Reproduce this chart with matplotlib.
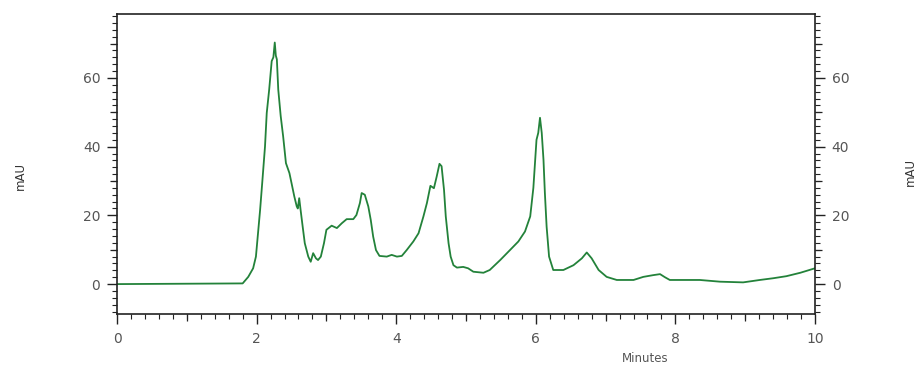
import numpy as np
import matplotlib
matplotlib.use('Agg')
import matplotlib.pyplot as plt
from matplotlib.ticker import MultipleLocator

# chromatogram trace, absorbance (mAU) vs retention time (min)
t_min = [0.00, 1.80, 1.88, 1.95, 1.99, 2.02, 2.05, 2.08, 2.12, 2.145,
         2.18, 2.216, 2.24, 2.26, 2.275, 2.29, 2.31, 2.345, 2.38, 2.42,
         2.47, 2.50, 2.54, 2.575, 2.59, 2.61, 2.63, 2.66, 2.69, 2.74,
         2.775, 2.81, 2.85, 2.88, 2.92, 2.965, 3.00, 3.075, 3.15, 3.22,
         3.29, 3.385, 3.43, 3.48, 3.505, 3.55, 3.60, 3.635, 3.67, 3.71,
         3.76, 3.865, 3.935, 4.01, 4.08, 4.15, 4.245, 4.32, 4.39, 4.44,
         4.49, 4.54, 4.58, 4.62, 4.65, 4.685, 4.71, 4.75, 4.78, 4.82,
         4.87, 4.96, 5.03, 5.105, 5.25, 5.34, 5.49, 5.63, 5.75, 5.845,
         5.92, 5.965, 6.01, 6.035, 6.06, 6.085, 6.11, 6.13, 6.155, 6.19,
         6.25, 6.395, 6.54, 6.66, 6.73, 6.80, 6.90, 7.015, 7.16, 7.40,
         7.54, 7.68, 7.78, 7.85, 7.92, 8.35, 8.64, 8.97, 9.21, 9.40,
         9.59, 9.79, 10.0]
mau = [0.0, 0.2, 2.1, 4.6, 8.0, 14.8, 21.6, 29.4, 40.0, 49.8,
       56.6, 64.9, 66.0, 70.3, 66.5, 65.4, 56.6, 48.9, 43.0, 35.2,
       32.3, 29.4, 25.5, 22.6, 22.0, 25.0, 21.6, 16.7, 11.9, 8.0,
       6.5, 9.0, 7.5, 7.0, 8.0, 11.9, 15.8, 17.0, 16.3, 17.7,
       18.9, 18.9, 20.1, 23.6, 26.5, 26.0, 22.6, 18.7, 13.8, 9.9,
       8.2, 8.0, 8.5, 8.0, 8.2, 9.9, 12.4, 14.8, 19.7, 23.6,
       28.6, 27.9, 31.3, 35.0, 34.3, 27.4, 19.7, 11.9, 8.0, 5.5,
       4.8, 5.0, 4.6, 3.6, 3.3, 4.1, 7.0, 9.9, 12.4, 15.3,
       19.7, 28.0, 42.0, 44.0, 48.4, 44.0, 36.2, 26.5, 16.7, 8.0,
       4.1, 4.1, 5.5, 7.5, 9.2, 7.5, 4.1, 2.1, 1.2, 1.2,
       2.1, 2.6, 2.9, 2.0, 1.2, 1.2, 0.7, 0.5, 1.2, 1.7,
       2.3, 3.3, 4.6]

xticks = [0, 2, 4, 6, 8, 10]
yticks = [0, 20, 40, 60]
xmid = [1, 3, 5, 7, 9]
ymid = [10, 30, 50, 70]

lc = '#23823a'
tc = '#555555'
plt.rcParams['font.family'] = ['DejaVu Sans']

fig = plt.figure(figsize=(9.15, 3.73), dpi=100)
ax = fig.add_axes([0.1279, 0.1582, 0.7628, 0.8043])
ax.plot(t_min, mau, color=lc, lw=1.3)

ax.set_xlim(0, 10)
ax.set_ylim(-8.7, 78.6)
ax.set_xticks(xticks)
ax.set_yticks(yticks)
ax.xaxis.set_minor_locator(MultipleLocator(0.2))
ax.yaxis.set_minor_locator(MultipleLocator(2))
ax.tick_params(which='major', length=7, width=1, color='#222222',
               labelsize=10, labelcolor=tc, direction='out')
ax.tick_params(which='minor', length=3.5, width=0.8, color='#222222', direction='out')
ax.tick_params(axis='y', which='both', left=True, right=True,
               labelleft=True, labelright=True)
ax.tick_params(axis='y', which='major', pad=5)
ax.tick_params(axis='x', which='major', pad=6)
for s in ax.spines.values():
    s.set_linewidth(1.2)
    s.set_color('#222222')

# medium ticks at odd minutes / every 10 mAU
sx = ax.secondary_xaxis('bottom')
sx.set_xticks(xmid)
sx.tick_params(length=5, width=0.9, color='#222222', labelbottom=False)
sx.spines['bottom'].set_visible(False)
for side in ('left', 'right'):
    sy = ax.secondary_yaxis(side)
    sy.set_yticks(ymid)
    sy.tick_params(length=5, width=0.9, color='#222222',
                   labelleft=False, labelright=False)
    sy.spines[side].set_visible(False)

fig.text(20/915, 1-176/373, 'mAU', rotation=90, ha='center', va='center',
         fontsize=8.5, color='#333333')
fig.text(910/915, 1-172/373, 'mAU', rotation=90, ha='center', va='center',
         fontsize=8.5, color='#333333')
fig.text(645/915, 1-358/373, 'Minutes', ha='center', va='center',
         fontsize=8.5, color='#555555')

fig.savefig('out.png', dpi=100)
